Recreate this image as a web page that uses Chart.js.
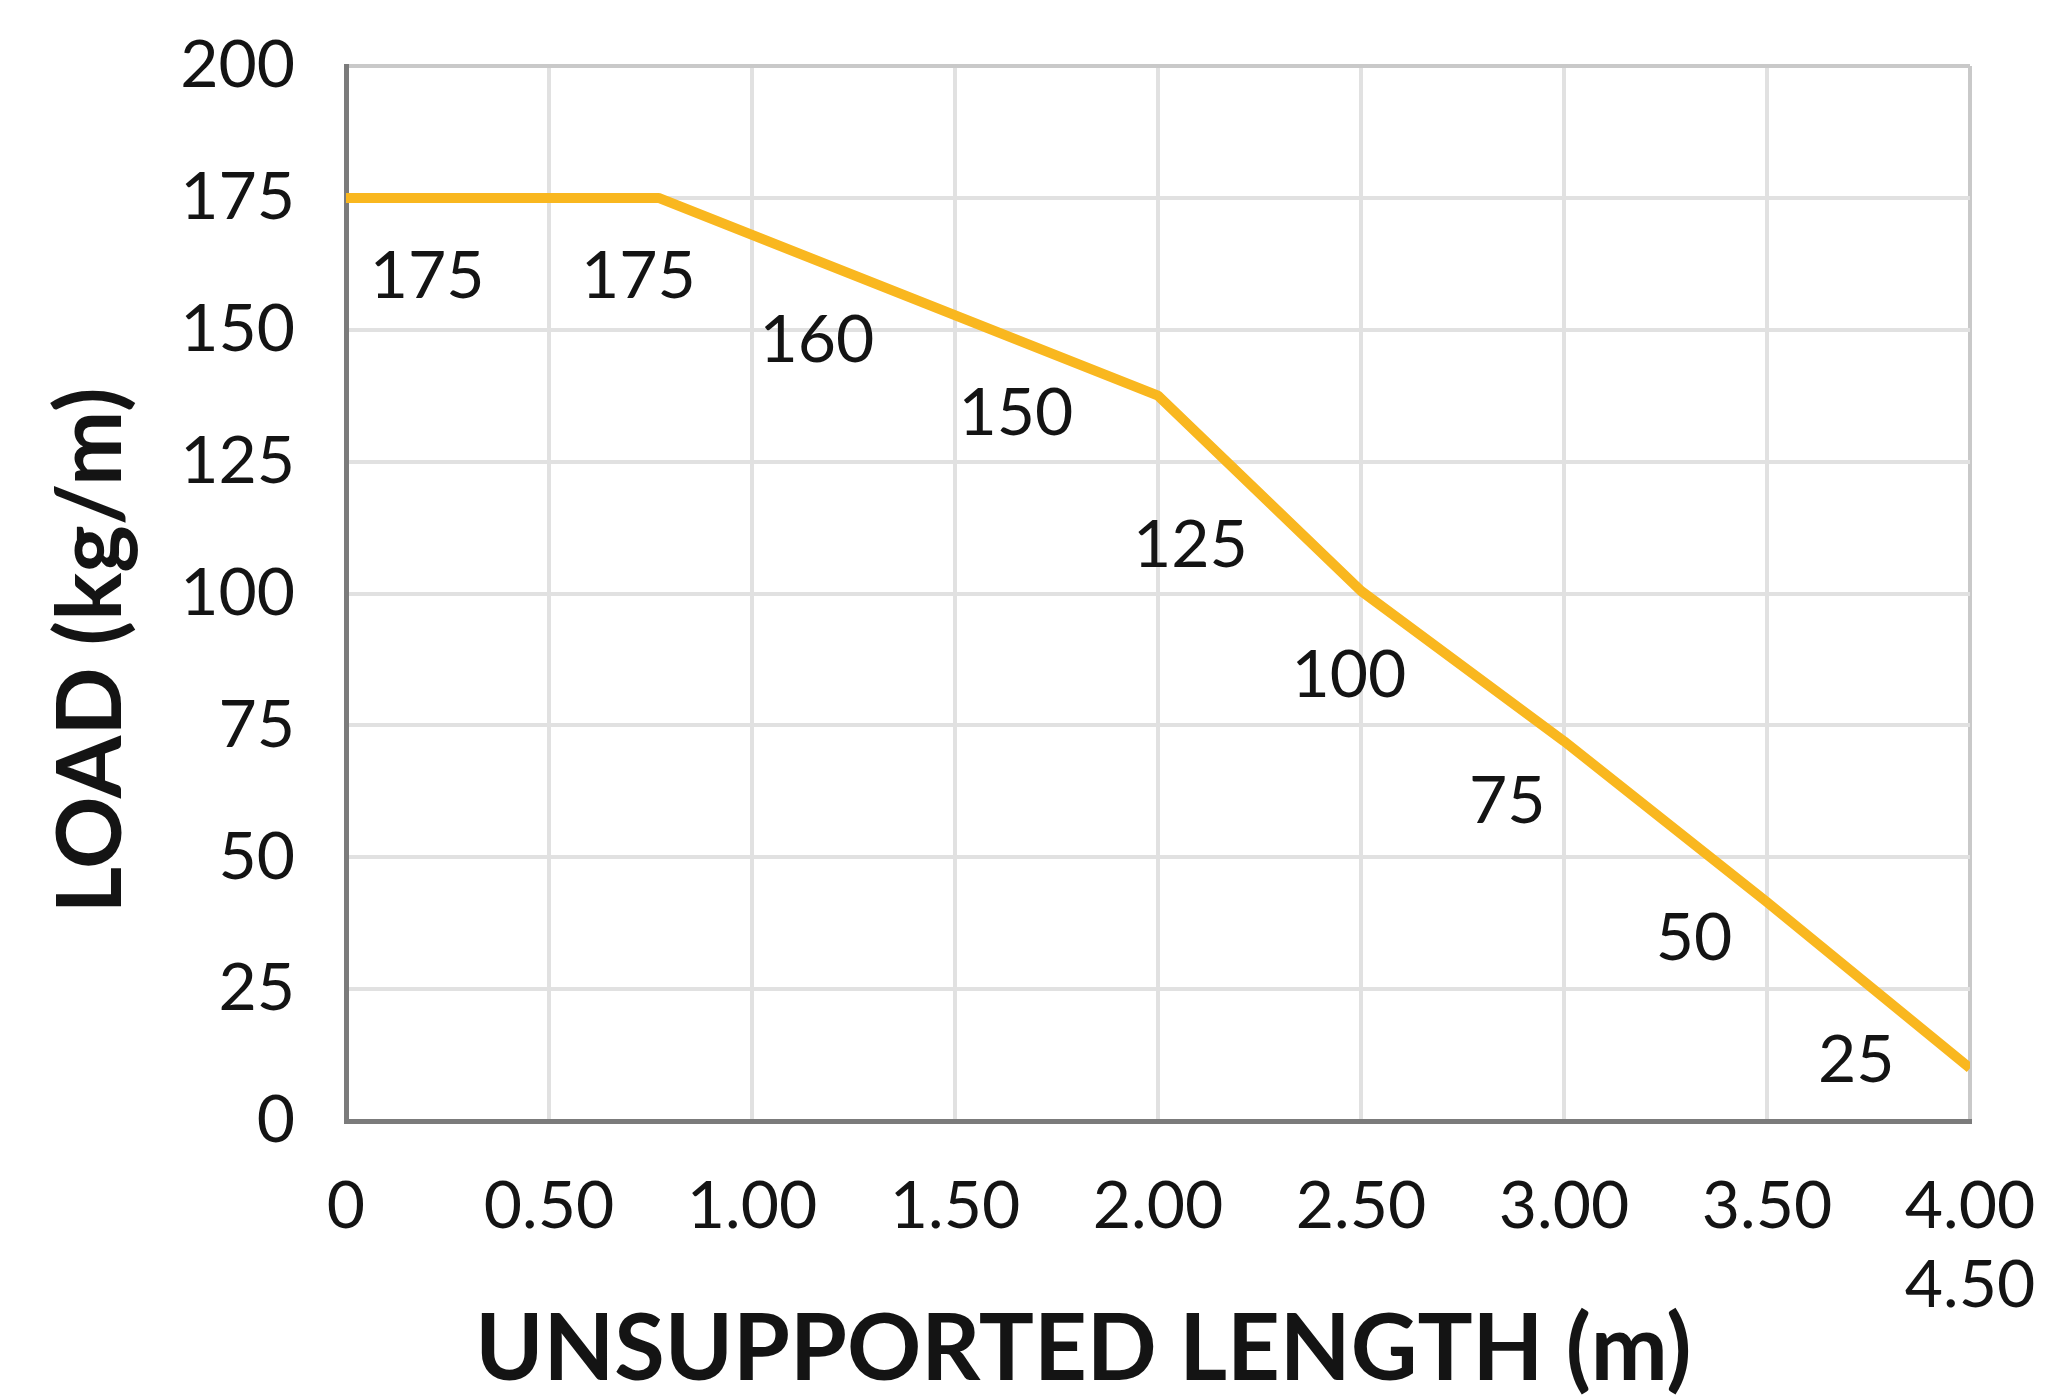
<!DOCTYPE html>
<html>
<head>
<meta charset="utf-8">
<script src="https://cdn.jsdelivr.net/npm/chart.js@4.4.1/dist/chart.umd.min.js"></script>
<style>
  html, body { margin: 0; padding: 0; background: #fff; }
  #wrap { width: 2070px; height: 1398px; }
</style>
</head>
<body>
<div id="wrap"><canvas id="myChart" width="2070" height="1398"></canvas></div>
<script>
// line vertices: unsupported length (m) -> load (kg/m)
const lengthX = [0, 0.77, 2.0, 2.5, 3.0, 3.5, 4.0];
const loadY = [175, 175, 137.5, 100.5, 72, 41.5, 10];

// values printed under the line, placed in data units
const noteText = ['175', '175', '160', '150', '125', '100', '75', '50', '25'];
const noteX = [0.20, 0.72, 1.16, 1.65, 2.08, 2.47, 2.86, 3.32, 3.72];
const noteY = [160, 160, 148, 134, 109, 84.5, 60.5, 34.5, 11.5];

// tick labels
const xTickLabels = ['0', '0.50', '1.00', '1.50', '2.00', '2.50', '3.00', '3.50', ['4.00', '4.50']];
const yTickLabels = ['0', '25', '50', '75', '100', '125', '150', '175', '200'];

const xTitle = 'UNSUPPORTED LENGTH (m)';
const yTitle = 'LOAD (kg/m)';

const textColor = '#141414';
const lineColor = '#F9B71F';

// draws the numbers under the line
const notesPlugin = {
    id: 'notes',
    afterDatasetsDraw(chart) {
        const { ctx, scales: { x, y } } = chart;
        ctx.save();
        ctx.font = '66px Lato';
        ctx.fillStyle = textColor;
        ctx.textAlign = 'center';
        ctx.textBaseline = 'middle';
        noteText.forEach((t, i) => {
            ctx.fillText(t, x.getPixelForValue(noteX[i]), y.getPixelForValue(noteY[i]));
        });
        ctx.restore();
    }
};

// axis titles (sit a bit off-centre in the original)
const titlesPlugin = {
    id: 'axisTitles',
    afterDraw(chart) {
        const { ctx, chartArea: a } = chart;
        ctx.save();
        ctx.fillStyle = textColor;
        ctx.textAlign = 'center';
        ctx.textBaseline = 'alphabetic';
        ctx.font = 'bold 92px Lato';
        ctx.fillText(xTitle, a.left + a.width * 0.454, a.bottom + 259);
        ctx.font = 'bold 90px Lato';
        ctx.translate(121, a.top + a.height * 0.554);
        ctx.rotate(-Math.PI / 2);
        ctx.fillText(yTitle, 0, 0);
        ctx.restore();
    }
};

function buildChart() {
    const ctx = document.getElementById('myChart').getContext('2d');
    new Chart(ctx, {
        type: 'line',
        data: {
            datasets: [{
                data: lengthX.map((v, i) => ({ x: v, y: loadY[i] })),
                borderColor: lineColor,
                borderWidth: 10,
                borderJoinStyle: 'round',
                pointRadius: 0,
                tension: 0,
                fill: false
            }]
        },
        options: {
            responsive: false,
            animation: false,
            devicePixelRatio: 1,
            layout: { padding: { top: 66, right: 100, left: 0, bottom: 0 } },
            plugins: {
                legend: { display: false },
                tooltip: { enabled: false }
            },
            scales: {
                x: {
                    type: 'linear',
                    min: 0,
                    max: 4,
                    afterFit: (scale) => {
                        scale.height = 277;
                        scale.paddingLeft = 0;
                        scale.paddingRight = 0;
                    },
                    ticks: {
                        stepSize: 0.5,
                        maxRotation: 0,
                        autoSkip: false,
                        padding: 46,
                        color: textColor,
                        font: { family: 'Lato', size: 66 },
                        callback: (v, i) => xTickLabels[i]
                    },
                    grid: {
                        drawTicks: false,
                        lineWidth: 4,
                        color: (c) => c.tick && c.tick.value === 4 ? '#c9c9c9' : '#e1e1e1'
                    },
                    border: { color: '#7b7b7b', width: 5 }
                },
                y: {
                    min: 0,
                    max: 200,
                    afterFit: (scale) => {
                        scale.width = 346;
                        scale.paddingTop = 0;
                        scale.paddingBottom = 0;
                    },
                    ticks: {
                        stepSize: 25,
                        padding: 51,
                        color: textColor,
                        font: { family: 'Lato', size: 66 },
                        callback: (v, i) => yTickLabels[i]
                    },
                    grid: {
                        drawTicks: false,
                        lineWidth: 4,
                        color: (c) => c.tick && c.tick.value === 200 ? '#c9c9c9' : '#e1e1e1'
                    },
                    border: { color: '#7b7b7b', width: 5 }
                }
            }
        },
        plugins: [notesPlugin, titlesPlugin]
    });
}

Promise.all([
    document.fonts.load('66px Lato'),
    document.fonts.load('bold 92px Lato')
]).then(buildChart, buildChart);
</script>
</body>
</html>
